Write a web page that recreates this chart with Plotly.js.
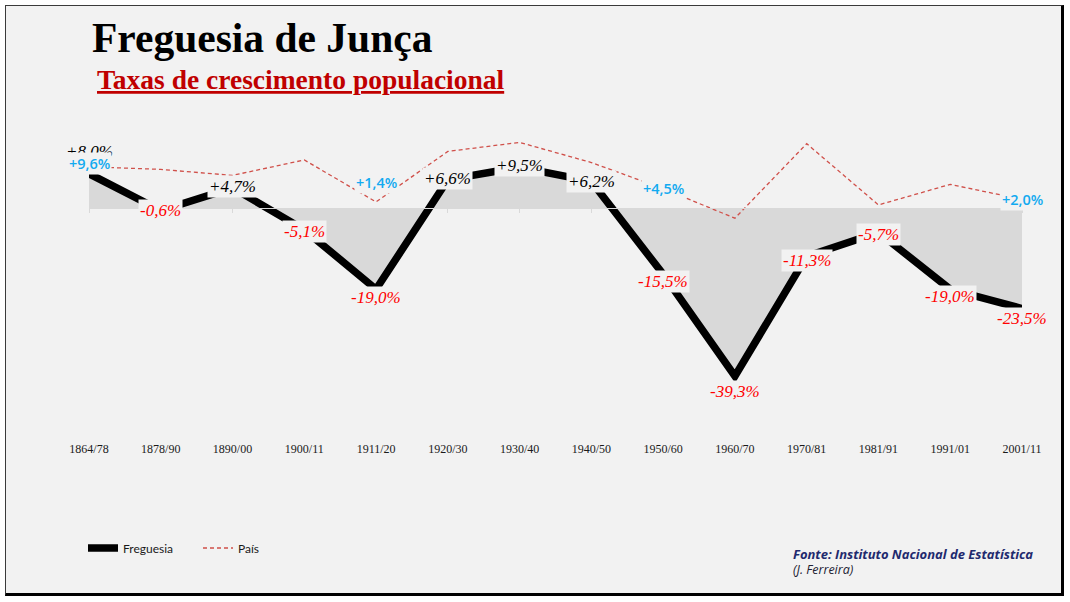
<!DOCTYPE html>
<html>
<head>
<meta charset="utf-8">
<script src="https://cdn.plot.ly/plotly-3.0.1.min.js"></script>
<style>
  html, body { margin: 0; padding: 0; background: #ffffff; }
  #wrap { position: relative; width: 1070px; height: 602px; overflow: hidden; background: #ffffff; }
  #frame {
    position: absolute; left: 5px; top: 5px; width: 1055px; height: 587px;
    background: #f2f2f2;
    border-top: 1px solid #3a3a3a; border-left: 1px solid #3a3a3a;
    border-right: 3px solid #000000; border-bottom: 3px solid #000000;
  }
  #chart { position: absolute; left: 0; top: 0; width: 1070px; height: 602px; }
</style>
</head>
<body>
<div id="wrap">
  <div id="frame"></div>
  <div id="chart"></div>
</div>
<script>
// Census periods
const categories = ['1864/78', '1878/90', '1890/00', '1900/11', '1911/20', '1920/30', '1930/40',
                    '1940/50', '1950/60', '1960/70', '1970/81', '1981/91', '1991/01', '2001/11'];

// Population growth rate (%) of the parish
const freguesia = [8.0, -0.6, 4.7, -5.1, -19.0, 6.6, 9.5, 6.2, -15.5, -39.3, -11.3, -5.7, -19.0, -23.5];

// Population growth rate (%) of the country
const pais = [9.6, 9.0, 7.6, 11.2, 1.4, 13.2, 15.3, 10.6, 4.5, -2.4, 15.0, 0.7, 5.5, 2.0];

// Country points that carry a value label
const paisLabelled = [0, 4, 8, 13];

// Vertical offset (px, downward) of each label from its point
const freguesiaLabelDy = [-22, 0, -1, 2, 8, -1, -2, 0, 7, 15, 4, 2, 7, 10];
const paisLabelDy = [-3, -19, 0, 0];

function fmt(v) {
  return (v > 0 ? '+' : '') + v.toFixed(1).replace('.', ',') + '%';
}

const yRange = [-54.2, 18.2];
const xRange = [0, categories.length - 1];

const traces = [
  {
    x: categories, y: freguesia, type: 'scatter', mode: 'lines',
    fill: 'tozeroy', fillcolor: '#d9d9d9', line: {width: 0, color: '#d9d9d9'},
    hoverinfo: 'skip', showlegend: false
  },
  {
    x: categories, y: pais, type: 'scatter', mode: 'lines', name: 'País',
    line: {color: '#d0504a', width: 1.3, dash: '4px,3px'},
    hoverinfo: 'skip'
  },
  {
    x: categories, y: freguesia, type: 'scatter', mode: 'lines', name: 'Freguesia',
    line: {color: '#000000', width: 7.5},
    hoverinfo: 'skip'
  },
  {
    // carries the zero baseline with its tick marks
    x: categories, y: freguesia.map(() => null), xaxis: 'x2', type: 'scatter',
    mode: 'lines', showlegend: false, hoverinfo: 'skip'
  }
];

const annotations = [];

freguesia.forEach((v, i) => {
  annotations.push({
    x: categories[i], y: v, xref: 'x', yref: 'y',
    text: fmt(v), showarrow: false,
    yshift: -freguesiaLabelDy[i],
    bgcolor: '#f2f2f2', borderpad: 1,
    font: {family: 'Liberation Serif, serif', size: 17, style: 'italic',
           color: v >= 0 ? '#000000' : '#ff0000'}
  });
});

paisLabelled.forEach((i, k) => {
  annotations.push({
    x: categories[i], y: pais[i], xref: 'x', yref: 'y',
    text: fmt(pais[i]), showarrow: false,
    yshift: -paisLabelDy[k],
    bgcolor: '#f2f2f2', borderpad: 1,
    font: {family: 'Open Sans, sans-serif', size: 14.5, weight: 600, color: '#12aaf0'}
  });
});

// Subtitle
annotations.push({
  xref: 'paper', yref: 'paper', x: 6 / 933, y: (440 - 80) / 310,
  xanchor: 'left', yanchor: 'middle', showarrow: false,
  text: '<u>Taxas de crescimento populacional</u>',
  font: {family: 'Liberation Serif, serif', size: 27.5, weight: 'bold', color: '#c00000'}
});

// Source
annotations.push({
  xref: 'paper', yref: 'paper', x: (791 - 89) / 933, y: (440 - 554) / 310,
  xanchor: 'left', yanchor: 'middle', showarrow: false,
  text: '<b><i>Fonte: Instituto Nacional de Estatística</i></b>',
  font: {family: 'Open Sans, sans-serif', size: 13, color: '#1f2a6e'}
});
annotations.push({
  xref: 'paper', yref: 'paper', x: (791 - 89) / 933, y: (440 - 569) / 310,
  xanchor: 'left', yanchor: 'middle', showarrow: false,
  text: '<i>(J. Ferreira)</i>',
  font: {family: 'Open Sans, sans-serif', size: 12.5, color: '#222233'}
});

const layout = {
  width: 1070, height: 602,
  paper_bgcolor: 'rgba(0,0,0,0)', plot_bgcolor: 'rgba(0,0,0,0)',
  margin: {l: 89, r: 48, t: 130, b: 162},
  title: {
    text: '<b>Freguesia de Junça</b>',
    xref: 'container', yref: 'container',
    x: 92 / 1070, xanchor: 'left',
    y: 1 - 37 / 602, yanchor: 'middle',
    font: {family: 'Liberation Serif, serif', size: 41.5, color: '#000000'}
  },
  xaxis: {
    type: 'category', range: xRange,
    showgrid: false, zeroline: false, showline: false, ticks: '',
    tickfont: {family: 'Liberation Serif, serif', size: 12, color: '#1a1a1a'}
  },
  xaxis2: {
    type: 'category', range: xRange, overlaying: 'x', anchor: 'free',
    position: (0 - yRange[0]) / (yRange[1] - yRange[0]),
    showgrid: false, zeroline: false, showticklabels: false,
    showline: true, linecolor: '#d9d9d9', linewidth: 1,
    ticks: 'outside', ticklen: 4, tickcolor: '#d9d9d9', tickwidth: 1
  },
  yaxis: {
    range: yRange, visible: false, showgrid: false, zeroline: false
  },
  showlegend: true,
  legend: {
    orientation: 'h', x: -6 / 933, y: (440 - 548) / 310,
    xanchor: 'left', yanchor: 'middle',
    traceorder: 'reversed',
    entrywidth: 70, entrywidthmode: 'pixels',
    bgcolor: 'rgba(0,0,0,0)',
    font: {family: 'Lato, sans-serif', size: 12, color: '#1a1a1a'}
  },
  annotations: annotations
};

Plotly.newPlot('chart', traces, layout, {displayModeBar: false, staticPlot: true});
</script>
</body>
</html>
